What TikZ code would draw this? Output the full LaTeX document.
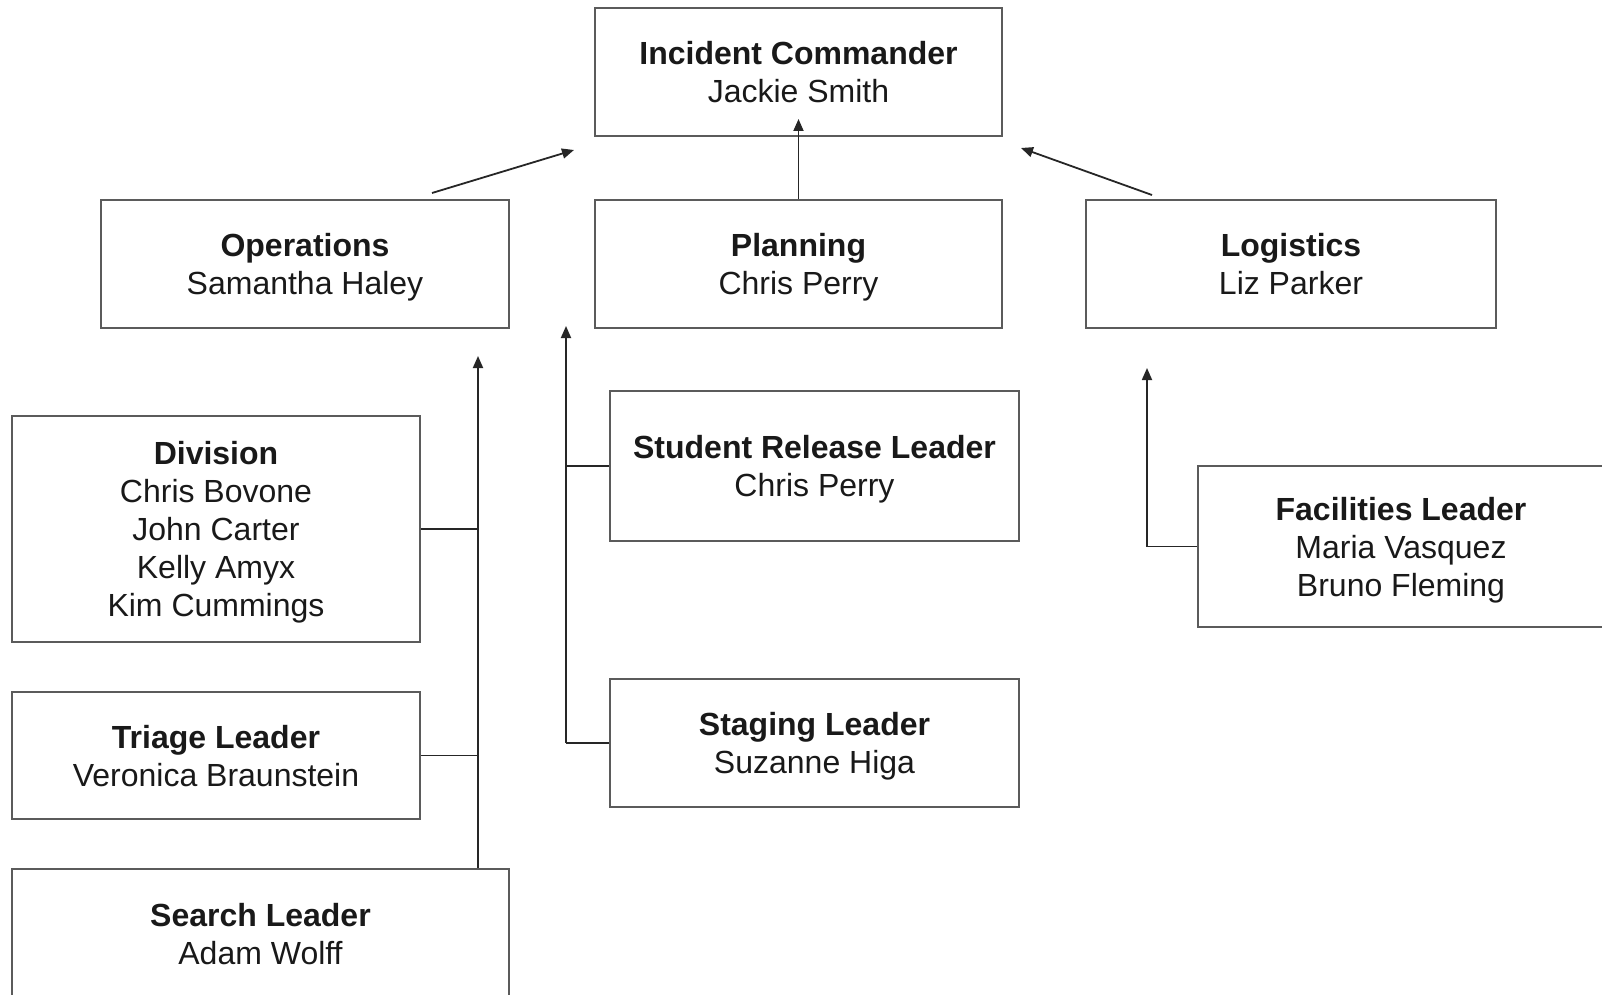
\documentclass[tikz,border=0pt]{standalone}
\usepackage{fontspec}
\setmainfont{Liberation Sans}
\usetikzlibrary{calc}
\usetikzlibrary{arrows.meta}
\definecolor{boxline}{HTML}{5B5B5B}
\definecolor{wirecol}{HTML}{262626}
\newcommand{\vstrut}{\rule[-3.75pt]{0pt}{19pt}}

\begin{document}
\begin{tikzpicture}[x=0.5pt,y=-0.5pt,
    box/.style={draw=boxline,line width=1pt,align=center,inner sep=0pt,text=black!90,font=\fontsize{16}{19}\selectfont},
    wire/.style={draw=wirecol,line width=0.9pt},
    up/.style={wire,-{Triangle[length=6pt,width=5pt]}}]
    \useasboundingbox (0,0) rectangle (1602,995);

    %command
    \node[box,minimum width=203.5pt,minimum height=64pt] (ic) at (798.5,72) {\vstrut\textbf{Incident Commander}\\\vstrut Jackie Smith};

    %sections
    \node[box,minimum width=204pt,minimum height=64pt] (ops) at (305,264) {\vstrut\textbf{Operations}\\\vstrut Samantha Haley};
    \node[box,minimum width=203.5pt,minimum height=64pt] (plan) at (798.5,264) {\vstrut\textbf{Planning}\\\vstrut Chris Perry};
    \node[box,minimum width=205pt,minimum height=64pt] (logi) at (1291,264) {\vstrut\textbf{Logistics}\\\vstrut Liz Parker};

    %operations units
    \node[box,minimum width=204pt,minimum height=113pt] (div) at (216,529) {\vstrut\textbf{Division}\\\vstrut Chris Bovone\\\vstrut John Carter\\\vstrut Kelly Amyx\\\vstrut Kim Cummings};
    \node[box,minimum width=204pt,minimum height=63.5pt] (triage) at (216,755.5) {\vstrut\textbf{Triage Leader}\\\vstrut Veronica Braunstein};
    \node[box,minimum width=248.5pt,minimum height=65pt] (search) at (260.5,934) {\vstrut\textbf{Search Leader}\\\vstrut Adam Wolff};

    %planning units
    \node[box,minimum width=204.5pt,minimum height=75pt] (sr) at (814.5,466) {\vstrut\textbf{Student Release Leader}\\\vstrut Chris Perry};
    \node[box,minimum width=204.5pt,minimum height=64pt] (staging) at (814.5,743) {\vstrut\textbf{Staging Leader}\\\vstrut Suzanne Higa};

    %logistics units
    \node[box,minimum width=203pt,minimum height=80.5pt] (fac) at (1401,546.5) {\vstrut\textbf{Facilities Leader}\\\vstrut Maria Vasquez\\\vstrut Bruno Fleming};

    %to command
    \draw[up] ($(ops.north)+(127,-6)$) -- ($(ic.south west)+(-20,13)$);
    \draw[up] (plan.north) -- ($(ic.south)+(0,-18)$);
    \draw[up] ($(logi.north west)+(67,-4)$) -- ($(ic.south east)+(18,11)$);

    %trunks
    \coordinate (opsin) at ($(ops.south east)+(-32,27)$);
    \coordinate (planin) at ($(plan.south west)+(-28,-3)$);
    \coordinate (login) at ($(logi.south west)+(62,39)$);

    \draw[up] (search.north -| opsin) -- (opsin);
    \draw[wire] (div.east) -- (div.east -| opsin);
    \draw[wire] (triage.east) -- (triage.east -| opsin);

    \draw[up] (staging.west -| planin) -- (planin);
    \draw[wire] (sr.west) -- (sr.west -| planin);
    \draw[wire] (staging.west) -- (staging.west -| planin);

    \draw[up] (fac.west -| login) -- (login);
    \draw[wire] (fac.west) -- (fac.west -| login);
\end{tikzpicture}
\end{document}
